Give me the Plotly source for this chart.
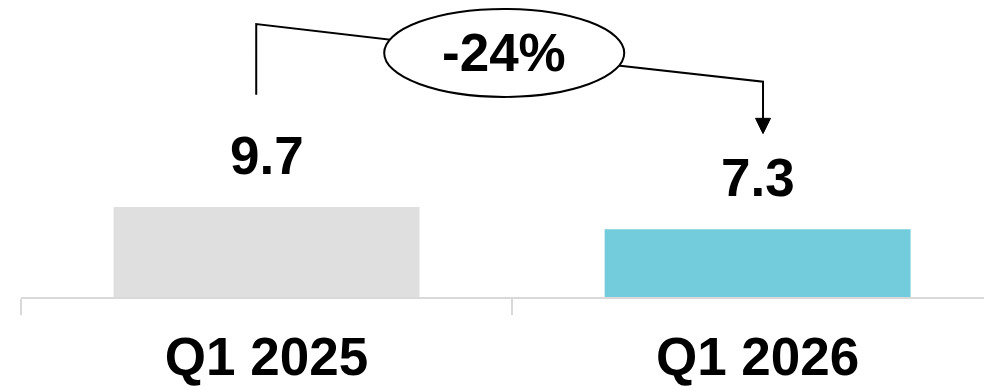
import plotly.graph_objects as go

categories = ["Q1 2025", "Q1 2026"]
values = [9.7, 7.3]
value_labels = ["9.7", "7.3"]
bar_colors = ["#DFDFDF", "#72CCDB"]
change_label = "-24%"

FONT = "Liberation Sans, Arial, sans-serif"
FS = 53

fig = go.Figure()
fig.add_trace(go.Bar(
    x=categories, y=values, marker=dict(color=bar_colors, line=dict(width=0)),
    width=0.623, hoverinfo="skip",
))

# value labels above bars
for c, v, t in zip(categories, values, value_labels):
    fig.add_annotation(x=c, y=v, text=f"<b>{t}</b>", showarrow=False,
                       yanchor="bottom", yshift=20,
                       font=dict(family=FONT, size=FS, color="black"))

# connector (in data coordinates relative to bars)
x0, x1 = -0.021, 1.011
y_start, y_top_l, y_mid, y_top_r, y_end = 21.8, 29.4, 26.3, 23.2, 17.6
xm = 0.484
fig.add_shape(type="path",
              path=f"M {x0},{y_start} L {x0},{y_top_l} L {xm},{y_mid} L {x1},{y_top_r} L {x1},{y_end+1.4}",
              line=dict(color="black", width=2), xref="x", yref="y")
# arrow head
fig.add_shape(type="path",
              path=f"M {x1-0.0153},{y_end+1.65} L {x1+0.0153},{y_end+1.65} L {x1},{y_end} Z",
              fillcolor="black", line=dict(color="black", width=1), xref="x", yref="y")
# ellipse
fig.add_shape(type="circle", x0=xm - 0.2444, x1=xm + 0.2444, y0=y_mid - 4.74, y1=y_mid + 4.74,
              fillcolor="white", line=dict(color="black", width=2), xref="x", yref="y")
fig.add_annotation(x=xm, y=y_mid, text=f"<b>{change_label}</b>", showarrow=False,
                   font=dict(family=FONT, size=FS, color="black"))

fig.update_layout(
    width=984, height=390,
    margin=dict(l=21, r=0, t=0, b=93),
    plot_bgcolor="white", paper_bgcolor="white",
    showlegend=False,
    xaxis=dict(type="category", range=[-0.5, 1.461], showgrid=False,
               showline=True, linecolor="#D9D9D9", linewidth=2,
               ticks="outside", tickson="boundaries", ticklen=16, tickcolor="#D9D9D9", tickwidth=2,
               tickfont=dict(family=FONT, size=FS, color="black"),
               tickprefix="<b>", ticksuffix="</b>", ticklabelstandoff=12),
    yaxis=dict(range=[0, 32], visible=False, fixedrange=True),
)

fig.write_html("out.html")
